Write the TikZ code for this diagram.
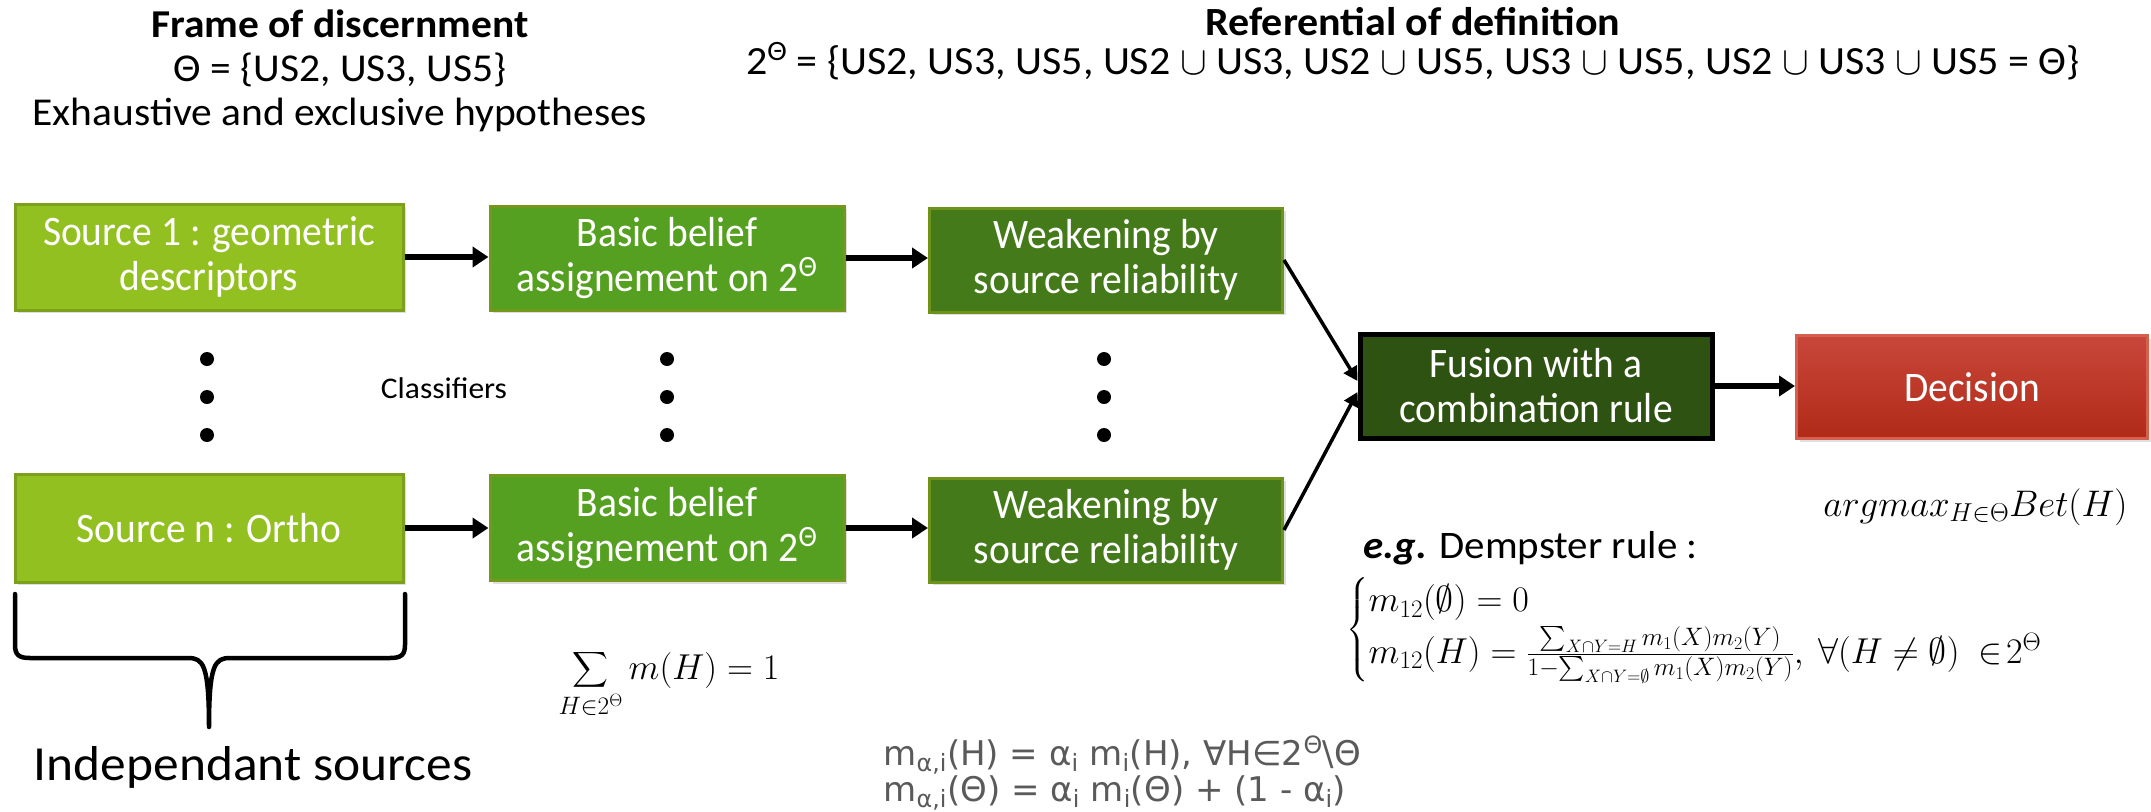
\RequirePackage{fix-cm}
\documentclass[tikz,border=0pt]{standalone}
\usepackage{amsmath}
\usepackage{graphicx}
\usepackage{fontspec}
\setmainfont{Carlito}[FakeStretch=1.05]
\newfontfamily\boxfont{Carlito}[FakeStretch=0.94]
\newfontfamily\grayfont{DejaVu Sans}
\usetikzlibrary{arrows.meta,shadows}
\definecolor{srcgreen}{HTML}{92C020}
\definecolor{srcedge}{HTML}{7DA01C}
\definecolor{bbgreen}{HTML}{56A021}
\definecolor{bbedge}{HTML}{74981C}
\definecolor{wkgreen}{HTML}{447A1A}
\definecolor{wkedge}{HTML}{6E921A}
\definecolor{fugreen}{HTML}{2D5211}
\definecolor{dectop}{HTML}{C8473A}
\definecolor{decbot}{HTML}{B12A18}
\definecolor{decedge}{HTML}{D4604F}
\definecolor{formgray}{HTML}{5A5A5A}
\tikzset{
  stage/.style={draw, line width=3pt, text=white, align=center,
    font=\boxfont\fontsize{42}{45}\selectfont, inner sep=0pt,
    drop shadow={opacity=0.25, shadow xshift=3pt, shadow yshift=-3pt}},
  flow/.style={-{Triangle[length=16pt,width=20pt]}, line width=6pt},
  link/.style={-{Triangle[length=14pt,width=15pt]}, line width=3.5pt},
  vdot/.style={circle, fill=black, inner sep=0pt, minimum size=14pt},
  title/.style={align=center, font=\fontsize{39.5}{44}\selectfont},
}
\begin{document}
\begin{tikzpicture}[x=1pt,y=-1pt]
\useasboundingbox[fill=white] (0,0) rectangle (2151,811);

% titles
\node[title] (frame) at (340,71) {\textbf{Frame of discernment}\\Θ = \{US2, US3, US5\}\\Exhaustive and exclusive hypotheses};
\node[title, font=\fontsize{40}{39}\selectfont] (refdef) at (1413,44) {\textbf{Referential of definition}\\2\textsuperscript{Θ} = \{US2, US3, US5, US2 $\cup$ US3, US2 $\cup$ US5, US3 $\cup$ US5, US2 $\cup$ US3 $\cup$ US5 = Θ\}};

% stage boxes
\node[stage, fill=srcgreen, draw=srcedge, minimum width=388pt, minimum height=106pt] (s1) at (209,257) {Source 1 : geometric\\descriptors};
\node[stage, fill=bbgreen, draw=bbedge, minimum width=354pt, minimum height=104pt] (b1) at (667,258) {Basic belief\\assignement on 2\textsuperscript{Θ}};
\node[stage, fill=wkgreen, draw=wkedge, minimum width=353pt, minimum height=104pt] (w1) at (1106,260) {Weakening by\\source reliability};
\node[stage, fill=srcgreen, draw=srcedge, minimum width=388pt, minimum height=108pt] (sn) at (209,528) {Source n : Ortho};
\node[stage, fill=bbgreen, draw=bbedge, minimum width=354pt, minimum height=105pt] (bn) at (667,528) {Basic belief\\assignement on 2\textsuperscript{Θ}};
\node[stage, fill=wkgreen, draw=wkedge, minimum width=353pt, minimum height=104pt] (wn) at (1106,530) {Weakening by\\source reliability};
\node[stage, fill=fugreen, draw=black, line width=5pt, minimum width=352pt, minimum height=104pt] (fu) at (1536,386) {Fusion with a\\combination rule};
\node[stage, top color=dectop, bottom color=decbot, draw=decedge, minimum width=351pt, minimum height=103pt] (dec) at (1972,387) {Decision};

% connectors
\draw[flow] (s1.east) -- (s1.east -| b1.west);
\draw[flow] (b1.east) -- (b1.east -| w1.west);
\draw[flow] (sn.east) -- (sn.east -| bn.west);
\draw[flow] (bn.east) -- (bn.east -| wn.west);
\draw[link] (w1.east) -- ([yshift=5pt]fu.west);
\draw[link] (wn.east) -- ([yshift=-6pt]fu.west);
\draw[flow] (fu.east) -- (fu.east -| dec.west);

% vertical dots
\node[vdot] (da1) at (207,359) {};
\node[vdot] (da2) at (207,397) {};
\node[vdot] (da3) at (207,435) {};
\node[vdot] (db1) at (667,359) {};
\node[vdot] (db2) at (667,397) {};
\node[vdot] (db3) at (667,435) {};
\node[vdot] (dc1) at (1104,359) {};
\node[vdot] (dc2) at (1104,397) {};
\node[vdot] (dc3) at (1104,435) {};

\node[font=\fontsize{30}{34}\selectfont] (cls) at (444,388) {Classifiers};

% brace
\draw[line width=4.5pt, line cap=round, line join=round]
  (15,594) -- (15,645) .. controls (15,655) and (19,658) .. (30,658) -- (188,658)
  .. controls (203,658) and (209,664) .. (209,727)
  .. controls (209,664) and (215,658) .. (230,658) -- (390,658)
  .. controls (401,658) and (405,655) .. (405,645) -- (405,594);
\node[font=\fontsize{49}{56}\selectfont] (indep) at (253,767) {Independant sources};

% formulas
\node[font=\fontsize{36}{40}\selectfont] (sumf) at (669,684) {$\displaystyle\sum_{H\in 2^{\Theta}} m(H)=1$};
\node[anchor=west, align=left, text=formgray, font=\grayfont\fontsize{34}{34}\selectfont] (weak) at (880,773)
  {m\textsubscript{α,i}(H) = α\textsubscript{i} m\textsubscript{i}(H), ∀H∈2\textsuperscript{Θ}\textbackslash Θ\\
   m\textsubscript{α,i}(Θ) = α\textsubscript{i} m\textsubscript{i}(Θ) + (1 - α\textsubscript{i})};
\node[anchor=east, font=\fontsize{37}{40}\selectfont] (argm) at (2131,507) {$argmax_{H\in\Theta}Bet(H)$};
\node[anchor=west, font=\fontsize{39}{42}\selectfont] (eg) at (1360,548) {\textbf{\textit{e.g.}} Dempster rule :};
\node[anchor=west, font=\fontsize{36}{42}\selectfont] (demp) at (1343,630)
  {$\begin{cases} m_{12}(\emptyset)=0\\ m_{12}(H)=\frac{\sum_{X\cap Y=H}m_1(X)m_2(Y)}{1-\sum_{X\cap Y=\emptyset}m_1(X)m_2(Y)},\ \forall(H\neq\emptyset)\ \in\!2^{\Theta}\end{cases}$};
\end{tikzpicture}
\end{document}
